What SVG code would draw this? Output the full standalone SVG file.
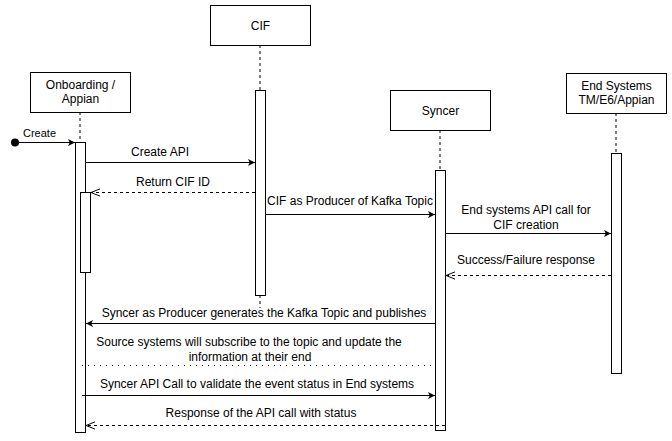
<svg xmlns="http://www.w3.org/2000/svg" width="672" height="441" viewBox="0 0 672 441">
<style>
.box{fill:#fff;stroke:#000;stroke-width:1}
.act{fill:#fff;stroke:#000;stroke-width:1}
.life{stroke:#000;stroke-width:1;stroke-dasharray:3 3;fill:none}
.msg{stroke:#000;stroke-width:1;fill:none}
.ret{stroke:#000;stroke-width:1;fill:none;stroke-dasharray:3 3}
.dot{stroke:#000;stroke-width:1;fill:none;stroke-dasharray:1 5}
text{font-family:"Liberation Sans",Arial,Helvetica,sans-serif;font-size:12px;fill:#000}
.c{text-anchor:middle}
</style>
<defs>
<marker id="block" viewBox="0 0 10 10" refX="10" refY="5" markerWidth="7" markerHeight="7" markerUnits="userSpaceOnUse" orient="auto">
<path d="M0,0 L10,5 L0,10 L2.5,5 Z" fill="#000"/>
</marker>
<marker id="open" viewBox="0 0 10 10" refX="10" refY="5" markerWidth="9" markerHeight="9" markerUnits="userSpaceOnUse" orient="auto">
<path d="M0,1 L10,5 L0,9" fill="none" stroke="#000" stroke-width="1.1"/>
</marker>
</defs>
<g id="lifelines">
<line class="life" x1="80" y1="112" x2="80" y2="142"/>
<line class="life" x1="260" y1="45" x2="260" y2="90"/>
<line class="life" x1="260" y1="295" x2="260" y2="308"/>
<line class="life" x1="440" y1="130" x2="440" y2="170"/>
<line class="life" x1="616" y1="113" x2="616" y2="153"/>
</g>
<g id="onboarding">
<rect class="box" x="30.5" y="72.5" width="100" height="40"/>
<text class="c" x="80.5" y="89">Onboarding /</text>
<text class="c" x="80.5" y="103">Appian</text>
<rect class="act" x="75.5" y="142.5" width="10" height="290"/>
<rect class="act" x="80.5" y="192.5" width="10" height="80"/>
</g>
<g id="cif">
<rect class="box" x="210.5" y="5.5" width="100" height="40"/>
<text class="c" x="260.5" y="30">CIF</text>
<rect class="act" x="255.5" y="90.5" width="10" height="205"/>
</g>
<g id="syncer">
<rect class="box" x="390.5" y="90.5" width="100" height="40"/>
<text class="c" x="440.5" y="115">Syncer</text>
<rect class="act" x="435.5" y="170.5" width="10" height="260"/>
</g>
<g id="endsystems">
<rect class="box" x="566.5" y="73.5" width="100" height="40"/>
<text class="c" x="616.5" y="90">End Systems</text>
<text class="c" x="616.5" y="104">TM/E6/Appian</text>
<rect class="act" x="611.5" y="153.5" width="10" height="220"/>
</g>
<g id="connectors">
<circle cx="15" cy="142.5" r="4" fill="#000"/>
<line class="msg" x1="15" y1="142.5" x2="75" y2="142.5" marker-end="url(#block)"/>
<text x="23" y="137" style="font-size:11px">Create</text>
<line class="msg" x1="85.5" y1="162.5" x2="255" y2="162.5" marker-end="url(#block)"/>
<text class="c" x="160" y="156">Create API</text>
<line class="ret" x1="255" y1="192.5" x2="91" y2="192.5" marker-end="url(#open)"/>
<text class="c" x="173" y="186">Return CIF ID</text>
<line class="msg" x1="265.5" y1="214.5" x2="435" y2="214.5" marker-end="url(#block)"/>
<text class="c" x="350" y="205">CIF as Producer of Kafka Topic</text>
<line class="msg" x1="445.5" y1="233.5" x2="611" y2="233.5" marker-end="url(#block)"/>
<text class="c" x="526" y="214">End systems API call for</text>
<text class="c" x="526" y="229">CIF creation</text>
<line class="ret" x1="611" y1="275.5" x2="446" y2="275.5" marker-end="url(#open)"/>
<text class="c" x="526" y="264">Success/Failure response</text>
<line class="msg" x1="435" y1="323.5" x2="86" y2="323.5" marker-end="url(#block)"/>
<text class="c" x="264" y="317">Syncer as Producer generates the Kafka Topic and publishes</text>
<text class="c" x="249" y="346">Source systems will subscribe to the topic and update the</text>
<text class="c" x="250" y="361">information at their end</text>
<line class="dot" x1="82" y1="365.5" x2="435" y2="365.5"/>
<line class="msg" x1="82" y1="395.5" x2="435" y2="395.5" marker-end="url(#block)"/>
<text class="c" x="257" y="388">Syncer API Call to validate the event status in End systems</text>
<line class="ret" x1="445" y1="425.5" x2="86" y2="425.5" marker-end="url(#open)"/>
<text class="c" x="261" y="417">Response of the API call with status</text>
</g>
</svg>
